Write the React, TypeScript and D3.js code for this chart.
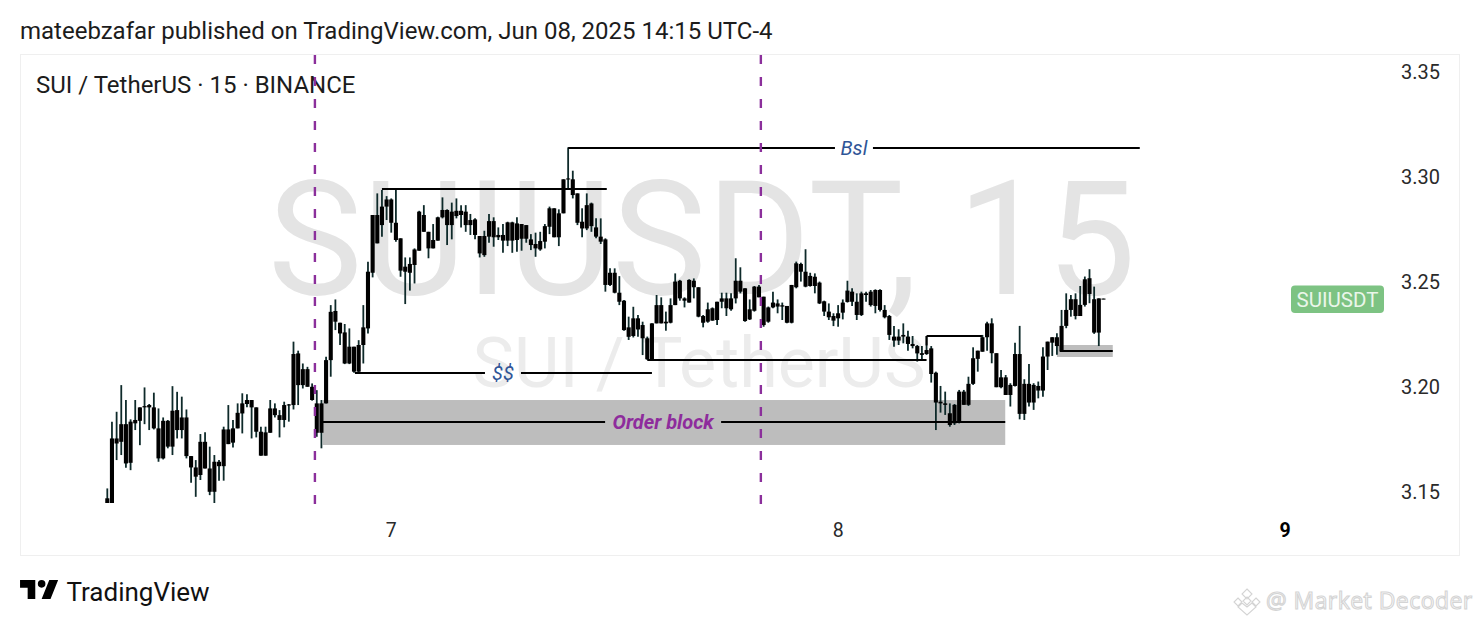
import React from "react";
import * as d3 from "d3";

const wickHigh = [
3.1517,3.1835,3.1882,3.2009,3.1938,3.1846,3.1938,3.1903,3.1998,3.1919,
3.1973,3.1898,3.1855,3.1843,3.2004,3.1977,3.1954,3.1893,3.1671,3.1652,
3.1776,3.1784,3.1716,3.1676,3.1652,3.1811,3.1914,3.1843,3.1922,3.1970,
3.1966,3.1938,3.1903,3.1811,3.1811,3.1938,3.1922,3.1890,3.1930,3.1919,
3.2216,3.2173,3.2112,3.2096,3.2017,3.1985,3.1938,3.2144,3.2390,3.2417,
3.2306,3.2300,3.2279,3.2192,3.2223,3.2390,3.2596,3.2819,3.2922,3.2938,
3.2909,3.2898,3.2938,3.2708,3.2617,3.2617,3.2660,3.2839,3.2866,3.2739,
3.2776,3.2811,3.2903,3.2846,3.2878,3.2898,3.2866,3.2866,3.2824,3.2803,
3.2719,3.2744,3.2824,3.2808,3.2760,3.2776,3.2787,3.2787,3.2808,3.2776,
3.2771,3.2728,3.2735,3.2739,3.2776,3.2859,3.2851,3.2846,3.2989,3.3141,
3.3030,3.2922,3.2851,3.2922,3.2878,3.2803,3.2803,3.2708,3.2565,3.2565,
3.2528,3.2414,3.2335,3.2382,3.2343,3.2311,3.2240,3.2303,3.2438,3.2427,
3.2359,3.2422,3.2541,3.2510,3.2427,3.2513,3.2517,3.2475,3.2343,3.2402,
3.2379,3.2406,3.2449,3.2449,3.2446,3.2613,3.2570,3.2470,3.2417,3.2481,
3.2486,3.2430,3.2383,3.2454,3.2417,3.2402,3.2386,3.2486,3.2597,3.2592,
3.2656,3.2544,3.2541,3.2502,3.2411,3.2398,3.2351,3.2390,3.2417,3.2506,
3.2470,3.2446,3.2454,3.2454,3.2462,3.2465,3.2465,3.2390,3.2343,3.2290,
3.2275,3.2303,3.2268,3.2243,3.2200,3.2195,3.2243,3.2195,3.2073,3.2005,
3.1978,3.1922,3.1919,3.1986,3.1986,3.2049,3.2189,3.2173,3.2248,3.2311,
3.2327,3.2161,3.2081,3.2057,3.2018,3.2211,3.2291,3.2037,3.2110,3.2018,
3.2026,3.2189,3.2216,3.2237,3.2256,3.2367,3.2446,3.2438,3.2446,3.2481,
3.2526,3.2561,3.2478,3.2422,3.2421];

const bodyHigh = [
3.1470,3.1755,3.1755,3.1823,3.1823,3.1835,3.1843,3.1903,3.1909,3.1914,
3.1903,3.1803,3.1839,3.1839,3.1887,3.1890,3.1855,3.1855,3.1671,3.1617,
3.1739,3.1739,3.1612,3.1644,3.1644,3.1798,3.1798,3.1803,3.1877,3.1922,
3.1938,3.1938,3.1903,3.1787,3.1784,3.1898,3.1898,3.1866,3.1914,3.1917,
3.2157,3.2160,3.2085,3.2085,3.2001,3.1922,3.1922,3.2128,3.2358,3.2362,
3.2306,3.2260,3.2192,3.2192,3.2200,3.2284,3.2549,3.2819,3.2819,3.2859,
3.2893,3.2893,3.2782,3.2708,3.2573,3.2586,3.2655,3.2835,3.2819,3.2739,
3.2700,3.2808,3.2843,3.2843,3.2835,3.2839,3.2839,3.2835,3.2795,3.2798,
3.2719,3.2719,3.2790,3.2790,3.2724,3.2724,3.2784,3.2784,3.2779,3.2776,
3.2771,3.2703,3.2681,3.2695,3.2766,3.2851,3.2851,3.2827,3.2989,3.2993,
3.2989,3.2922,3.2787,3.2866,3.2874,3.2760,3.2716,3.2703,3.2544,3.2544,
3.2449,3.2411,3.2284,3.2327,3.2327,3.2295,3.2232,3.2303,3.2390,3.2390,
3.2311,3.2390,3.2502,3.2506,3.2422,3.2510,3.2506,3.2475,3.2338,3.2370,
3.2375,3.2406,3.2422,3.2422,3.2422,3.2506,3.2506,3.2470,3.2370,3.2478,
3.2478,3.2430,3.2379,3.2402,3.2398,3.2389,3.2386,3.2486,3.2589,3.2586,
3.2549,3.2529,3.2525,3.2497,3.2408,3.2359,3.2338,3.2351,3.2402,3.2459,
3.2454,3.2406,3.2446,3.2446,3.2454,3.2462,3.2462,3.2367,3.2338,3.2240,
3.2240,3.2248,3.2240,3.2205,3.2195,3.2161,3.2176,3.2184,3.2068,3.1930,
3.1922,3.1875,3.1915,3.1978,3.1978,3.2015,3.2137,3.2173,3.2237,3.2303,
3.2303,3.2161,3.2046,3.2046,3.2010,3.2157,3.2157,3.2015,3.2015,3.2010,
3.2005,3.2145,3.2216,3.2237,3.2237,3.2291,3.2367,3.2418,3.2418,3.2391,
3.2513,3.2518,3.2418,3.2422,3.2421];

const bodyLow = [
3.1446,3.1440,3.1731,3.1739,3.1636,3.1639,3.1827,3.1839,3.1903,3.1903,
3.1803,3.1660,3.1660,3.1716,3.1716,3.1795,3.1795,3.1671,3.1617,3.1573,
3.1581,3.1612,3.1501,3.1501,3.1623,3.1623,3.1728,3.1735,3.1803,3.1874,
3.1919,3.1903,3.1787,3.1673,3.1673,3.1782,3.1866,3.1843,3.1843,3.1912,
3.1914,3.2009,3.2009,3.2001,3.1938,3.1782,3.1782,3.1922,3.2128,3.2311,
3.2255,3.2112,3.2112,3.2073,3.2073,3.2200,3.2279,3.2544,3.2684,3.2771,
3.2859,3.2782,3.2700,3.2554,3.2549,3.2544,3.2581,3.2649,3.2739,3.2660,
3.2660,3.2697,3.2808,3.2771,3.2771,3.2814,3.2819,3.2771,3.2771,3.2724,
3.2636,3.2628,3.2716,3.2713,3.2713,3.2697,3.2697,3.2697,3.2700,3.2706,
3.2706,3.2676,3.2660,3.2655,3.2692,3.2763,3.2713,3.2713,3.2827,3.2989,
3.2914,3.2782,3.2755,3.2755,3.2766,3.2716,3.2692,3.2486,3.2486,3.2449,
3.2406,3.2271,3.2239,3.2243,3.2274,3.2232,3.2132,3.2132,3.2303,3.2303,
3.2303,3.2306,3.2390,3.2422,3.2411,3.2402,3.2475,3.2335,3.2306,3.2311,
3.2316,3.2319,3.2406,3.2375,3.2370,3.2422,3.2454,3.2314,3.2322,3.2363,
3.2427,3.2295,3.2311,3.2379,3.2383,3.2383,3.2306,3.2306,3.2475,3.2549,
3.2478,3.2481,3.2481,3.2398,3.2359,3.2332,3.2316,3.2327,3.2354,3.2405,
3.2406,3.2343,3.2343,3.2438,3.2390,3.2386,3.2367,3.2332,3.2248,3.2221,
3.2221,3.2240,3.2205,3.2195,3.2160,3.2153,3.2157,3.2062,3.1926,3.1922,
3.1915,3.1819,3.1827,3.1835,3.1915,3.1915,3.2015,3.2134,3.2168,3.2237,
3.2161,3.1999,3.1999,3.1962,3.1962,3.2005,3.1872,3.1872,3.1926,3.1926,
3.1983,3.1983,3.2145,3.2211,3.2195,3.2173,3.2291,3.2367,3.2338,3.2338,
3.2391,3.2443,3.2259,3.2259,3.2418];

const wickLow = [
3.1446,3.1440,3.1652,3.1676,3.1616,3.1604,3.1795,3.1723,3.1823,3.1795,
3.1798,3.1644,3.1655,3.1708,3.1676,3.1755,3.1755,3.1660,3.1544,3.1477,
3.1557,3.1612,3.1485,3.1446,3.1554,3.1554,3.1728,3.1712,3.1803,3.1779,
3.1903,3.1755,3.1760,3.1673,3.1673,3.1782,3.1855,3.1760,3.1808,3.1835,
3.1893,3.1914,3.1993,3.2001,3.1935,3.1763,3.1708,3.1922,3.2049,3.2271,
3.2200,3.2109,3.2109,3.2068,3.2068,3.2112,3.2255,3.2522,3.2684,3.2716,
3.2795,3.2735,3.2692,3.2525,3.2395,3.2459,3.2493,3.2649,3.2739,3.2613,
3.2660,3.2697,3.2803,3.2676,3.2703,3.2803,3.2760,3.2739,3.2724,3.2703,
3.2617,3.2620,3.2687,3.2668,3.2700,3.2639,3.2671,3.2639,3.2644,3.2649,
3.2687,3.2652,3.2620,3.2649,3.2660,3.2728,3.2713,3.2671,3.2827,3.2946,
3.2898,3.2771,3.2713,3.2747,3.2739,3.2708,3.2681,3.2454,3.2481,3.2446,
3.2390,3.2268,3.2224,3.2236,3.2239,3.2152,3.2129,3.2129,3.2303,3.2303,
3.2268,3.2303,3.2390,3.2411,3.2379,3.2402,3.2422,3.2332,3.2284,3.2306,
3.2316,3.2295,3.2375,3.2338,3.2363,3.2398,3.2446,3.2311,3.2319,3.2359,
3.2427,3.2287,3.2306,3.2375,3.2351,3.2319,3.2303,3.2303,3.2470,3.2502,
3.2475,3.2478,3.2446,3.2395,3.2338,3.2319,3.2290,3.2287,3.2322,3.2402,
3.2386,3.2319,3.2338,3.2406,3.2383,3.2351,3.2359,3.2327,3.2224,3.2192,
3.2200,3.2208,3.2173,3.2184,3.2121,3.2129,3.2153,3.2021,3.1795,3.1878,
3.1867,3.1811,3.1819,3.1827,3.1915,3.1910,3.2010,3.2073,3.2168,3.2173,
3.2113,3.1999,3.1994,3.1962,3.1907,3.2002,3.1846,3.1843,3.1907,3.1891,
3.1946,3.1954,3.2081,3.2148,3.2153,3.2168,3.2280,3.2335,3.2322,3.2338,
3.2383,3.2399,3.2253,3.2195,3.2418];

const priceTicks = [3.35, 3.3, 3.25, 3.2, 3.15];
const dayTicks = [{ bar: 61, label: "7", bold: false }, { bar: 157, label: "8", bold: false }, { bar: 253, label: "9", bold: true }];
const sessionBars = [44.6, 140.4];

const levels = [
  { from: 99, to: 221.8, price: 3.3138, label: "Bsl", labelBar: 160.4, gap: 19 },
  { from: 59, to: 107.3, price: 3.2943 },
  { from: 53.2, to: 117, price: 3.2067, label: "$$", labelBar: 85, gap: 18 },
  { from: 116, to: 176, price: 3.2129 },
  { from: 176, to: 187.9, price: 3.2243 },
];
const zones = [
  { from: 46.3, to: 192.9, top: 3.1938, bottom: 3.1724, midFrom: 46.3, midTo: 192.9, mid: 3.1833, label: "Order block", labelBar: 119.4, gap: 58 },
  { from: 204.0, to: 216, top: 3.22, bottom: 3.2143, midFrom: 204.6, midTo: 216, mid: 3.2172 },
];
const cornerStart = { bar: 176, top: 3.2243, bottom: 3.2198 };
const pricePaneFloor = 3.1448;

const title = "mateebzafar published on TradingView.com, Jun 08, 2025 14:15 UTC-4";
const symbolLine = "SUI / TetherUS · 15 · BINANCE";

const FONT = "Roboto, sans-serif";
const WICK = "#0e2a2a";
const LINE_WIDTH = 2;

export default function App() {
  const x = d3.scaleLinear().domain([0, 253]).range([107.3, 1285]);
  const y = d3.scaleLinear().domain([3.35, 3.15]).range([72, 492]);
  const barCount = d3.range(wickHigh.length);

  return (
    <svg width={1480} height={626} style={{ position: "absolute", left: 0, top: 0, background: "#fff", fontFamily: FONT }}>
      <defs>
        <clipPath id="pane"><rect x={21} y={55} width={1360} height={y(pricePaneFloor) - 55} /></clipPath>
      </defs>
      <text x={20} y={39} fontSize={24} fill="#1c1c1c">{title}</text>
      <rect x={20.5} y={54.5} width={1439} height={501} fill="#fff" stroke="#efefef" />

      <text x={702} y={294} textAnchor="middle" fontSize={159} fill="#e4e4e4">SUIUSDT, 15</text>
      <text x={699} y={386.5} textAnchor="middle" fontSize={70} fill="#ececec">SUI / TetherUS</text>

      <text x={36} y={93} fontSize={24} fill="#1c1c1c">{symbolLine}</text>

      {zones.map((z, i) => (
        <rect key={i} x={x(z.from)} y={y(z.top)} width={x(z.to) - x(z.from)} height={y(z.bottom) - y(z.top)} fill="#bdbdbd" />
      ))}

      <g clipPath="url(#pane)">
        {barCount.map((i) => (
          <line key={i} x1={x(i)} x2={x(i)} y1={y(wickHigh[i])} y2={y(wickLow[i])} stroke={WICK} strokeWidth={1.8} />
        ))}
        {barCount.map((i) => (
          <rect key={i} x={x(i) - 2.05} width={4.1} y={y(bodyHigh[i])} height={Math.max(1, y(bodyLow[i]) - y(bodyHigh[i]))} fill="#000" />
        ))}
      </g>

      {zones.map((z, i) => z.label ? (
        <g key={i}>
          <line x1={x(z.midFrom)} x2={x(z.labelBar!) - z.gap!} y1={y(z.mid)} y2={y(z.mid)} stroke="#000" strokeWidth={LINE_WIDTH} />
          <line x1={x(z.labelBar!) + z.gap!} x2={x(z.midTo)} y1={y(z.mid)} y2={y(z.mid)} stroke="#000" strokeWidth={LINE_WIDTH} />
          <text x={x(z.labelBar!)} y={y(z.mid) + 7} textAnchor="middle" fontSize={20} fontStyle="italic" fontWeight={700} fill="#8e2c9c">{z.label}</text>
        </g>
      ) : (
        <line key={i} x1={x(z.midFrom)} x2={x(z.midTo)} y1={y(z.mid)} y2={y(z.mid)} stroke="#000" strokeWidth={LINE_WIDTH} />
      ))}

      {levels.map((l, i) => l.label ? (
        <g key={i}>
          <line x1={x(l.from)} x2={x(l.labelBar!) - l.gap!} y1={y(l.price)} y2={y(l.price)} stroke="#000" strokeWidth={LINE_WIDTH} />
          <line x1={x(l.labelBar!) + l.gap!} x2={x(l.to)} y1={y(l.price)} y2={y(l.price)} stroke="#000" strokeWidth={LINE_WIDTH} />
          <text x={x(l.labelBar!)} y={y(l.price) + 7} textAnchor="middle" fontSize={20} fontStyle="italic" fill="#2f5597">{l.label}</text>
        </g>
      ) : (
        <line key={i} x1={x(l.from)} x2={x(l.to)} y1={y(l.price)} y2={y(l.price)} stroke="#000" strokeWidth={LINE_WIDTH} />
      ))}
      <line x1={x(cornerStart.bar)} x2={x(cornerStart.bar)} y1={y(cornerStart.top)} y2={y(cornerStart.bottom)} stroke="#000" strokeWidth={LINE_WIDTH} />

      {sessionBars.map((b) => (
        <line key={b} x1={x(b)} x2={x(b)} y1={55} y2={506} stroke="#8b2f9b" strokeWidth={2.4} strokeDasharray="9 13" />
      ))}

      {priceTicks.map((p) => (
        <text key={p} x={1420.5} y={y(p) + 6.8} textAnchor="middle" fontSize={20} fill="#2a2a2a">{p.toFixed(2)}</text>
      ))}
      {dayTicks.map((d) => (
        <text key={d.label} x={x(d.bar)} y={537} textAnchor="middle" fontSize={19.5} fontWeight={d.bold ? 700 : 400} fill={d.bold ? "#000" : "#2a2a2a"}>{d.label}</text>
      ))}

      <rect x={1291} y={285.5} width={93} height={27.5} rx={4} fill="#7dc383" />
      <text x={1337.5} y={306.5} textAnchor="middle" fontSize={20.5} fill="#eaf6ea">SUIUSDT</text>

      <g transform="translate(17.5,572.4) scale(1.27)" fill="#000">
        <path d="M14 6H2v6h6v9h6V6Zm12 15h-7l6-15h7l-6 15Zm-7-9a3 3 0 1 0 0-6 3 3 0 0 0 0 6Z" />
      </g>
      <text x={66.5} y={601} fontSize={26} fill="#111">TradingView</text>

      <g fill="#fff" stroke="#d4d4d4" strokeWidth={1.1}>
        <path d="M1247 589l5 5-5 5-5-5zM1238 598l4 4-4 4-4-4zM1256 598l4 4-4 4-4-4zM1247 597l4 4-4 4-4-4zM1247 607l5-4 4 4-9 8-9-8 4-4z" />
        <text x={1266} y={608.5} fontSize={23} fontFamily="'Open Sans', sans-serif" letterSpacing={0.45}>@ Market Decoder</text>
      </g>
    </svg>
  );
}
